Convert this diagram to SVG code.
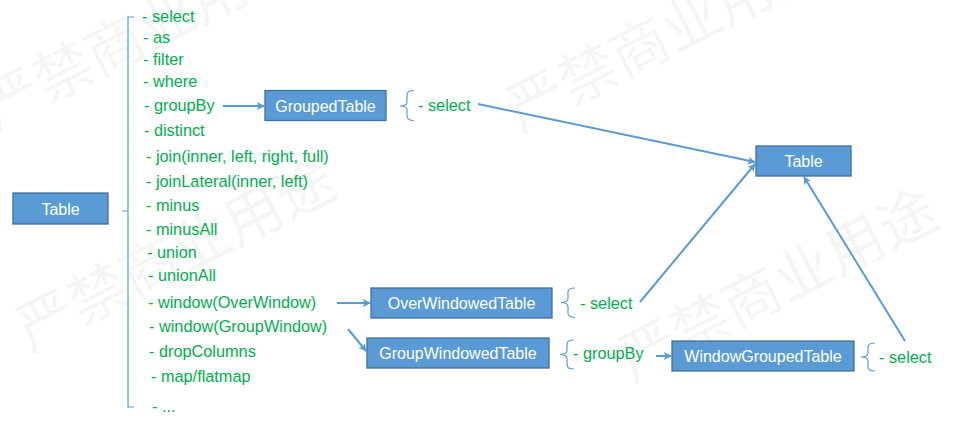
<svg xmlns="http://www.w3.org/2000/svg" width="956" height="425" viewBox="0 0 956 425">
  <style>
    .wm { font-family: "Noto Sans CJK SC", "Noto Sans", sans-serif; font-size: 58px; fill: #000; fill-opacity: 0.04; }
    .box { fill: #5B9BD5; stroke: #41719C; stroke-width: 1.3; }
    .bt { font-family: "Liberation Sans", Arial, sans-serif; font-size: 16px; fill: #fff; text-anchor: middle; }
    .it { font-family: "Liberation Sans", Arial, sans-serif; font-size: 16.3px; fill: #00B050; }
    .br { fill: none; stroke: #5B9BD5; stroke-width: 1.2; }
    .cn { fill: none; stroke: #5B9BD5; stroke-width: 2; marker-end: url(#ah); }
  </style>
  <defs>
    <marker id="ah" viewBox="0 0 10 10" refX="9" refY="5" markerWidth="4" markerHeight="4" orient="auto" markerUnits="strokeWidth">
      <path d="M0,0 L10,5 L0,10 L2.5,5 Z" fill="#5B9BD5"/>
    </marker>
  </defs>
  <rect width="956" height="425" fill="#fff"/>

  <g id="watermark">
    <text class="wm" transform="translate(-5,130) rotate(-27)">严禁商业用途</text>
    <text class="wm" transform="translate(30,352) rotate(-27)">严禁商业用途</text>
    <text class="wm" transform="translate(520,132) rotate(-27)">严禁商业用途</text>
    <text class="wm" transform="translate(632,382) rotate(-27)">严禁商业用途</text>
  </g>

  <g id="connectors">
    <line class="cn" x1="223" y1="106" x2="264" y2="106"/>
    <line class="cn" x1="478" y1="104" x2="755" y2="162"/>
    <line class="cn" x1="640" y1="302" x2="755" y2="164"/>
    <line class="cn" x1="905" y1="341" x2="804" y2="177"/>
    <line class="cn" x1="337" y1="303" x2="370" y2="303"/>
    <line class="cn" x1="348" y1="329" x2="366" y2="351"/>
    <line class="cn" x1="656" y1="356" x2="671" y2="356"/>
  </g>

  <g id="brackets">
    <path class="br" d="M134,17 L128,17 L128,407 L134,407 M128,211 L122,211"/>
    <path class="br" d="M414,90.5 Q407,90.5 407,95 L407,102 Q407,106 400,106 Q407,106 407,110 L407,116 Q407,120.5 414,120.5"/>
    <path class="br" d="M575,288 Q568,288 568,292 L568,298 Q568,302.5 561,302.5 Q568,302.5 568,307 L568,313 Q568,317.5 575,317.5"/>
    <path class="br" d="M574,340 Q567,340 567,344 L567,350 Q567,354.5 560,354.5 Q567,354.5 567,359 L567,365 Q567,369 574,369"/>
    <path class="br" d="M875,343 Q868,343 868,347 L868,353 Q868,357 861,357 Q868,357 868,361 L868,367 Q868,371 875,371"/>
  </g>

  <g id="table-left">
    <rect class="box" x="13" y="193" width="95" height="31"/>
    <text class="bt" x="60.5" y="215">Table</text>
  </g>
  <g id="grouped-table">
    <rect class="box" x="265" y="90.5" width="121" height="30"/>
    <text class="bt" x="325.5" y="111.5">GroupedTable</text>
  </g>
  <g id="table-right">
    <rect class="box" x="756" y="146" width="95" height="30"/>
    <text class="bt" x="803.5" y="167">Table</text>
  </g>
  <g id="over-windowed-table">
    <rect class="box" x="371" y="288" width="181" height="30"/>
    <text class="bt" x="461.5" y="309">OverWindowedTable</text>
  </g>
  <g id="group-windowed-table">
    <rect class="box" x="367" y="338" width="182" height="30"/>
    <text class="bt" x="458" y="359">GroupWindowedTable</text>
  </g>
  <g id="window-grouped-table">
    <rect class="box" x="672" y="341" width="182" height="30"/>
    <text class="bt" x="763" y="362">WindowGroupedTable</text>
  </g>

  <g id="operations">
    <text class="it" x="142" y="22">- select</text>
    <text class="it" x="143" y="43">- as</text>
    <text class="it" x="143" y="65">- filter</text>
    <text class="it" x="143" y="87">- where</text>
    <text class="it" x="144" y="111">- groupBy</text>
    <text class="it" x="144" y="136">- distinct</text>
    <text class="it" x="146" y="162">- join(inner, left, right, full)</text>
    <text class="it" x="146" y="187">- joinLateral(inner, left)</text>
    <text class="it" x="146" y="211">- minus</text>
    <text class="it" x="146" y="235">- minusAll</text>
    <text class="it" x="147" y="258">- union</text>
    <text class="it" x="148" y="281">- unionAll</text>
    <text class="it" x="148" y="308">- window(OverWindow)</text>
    <text class="it" x="149" y="332">- window(GroupWindow)</text>
    <text class="it" x="149" y="357">- dropColumns</text>
    <text class="it" x="151" y="382">- map/flatmap</text>
    <text class="it" x="152" y="412">- ...</text>
  </g>
  <g id="sub-operations">
    <text class="it" x="418" y="111">- select</text>
    <text class="it" x="580" y="309">- select</text>
    <text class="it" x="573" y="359">- groupBy</text>
    <text class="it" x="879" y="363">- select</text>
  </g>
</svg>
